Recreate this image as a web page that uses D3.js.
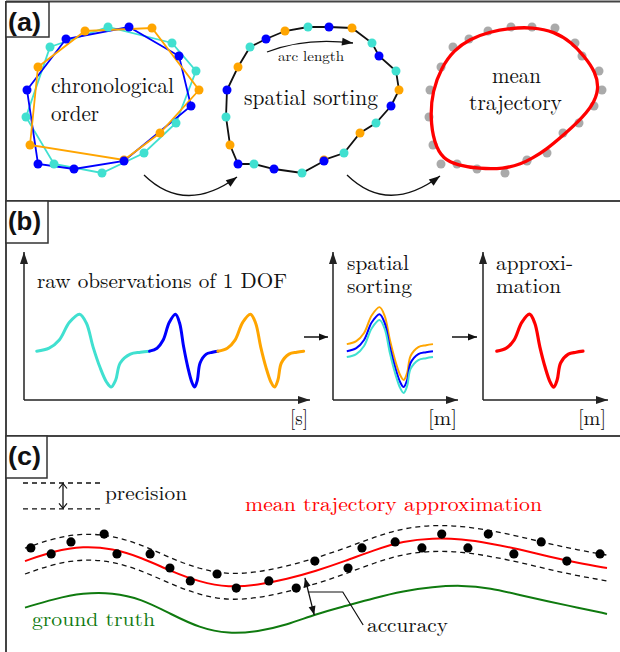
<!DOCTYPE html>
<html>
<head>
<meta charset="utf-8">
<script src="https://cdn.jsdelivr.net/npm/d3@7"></script>
<style>
  body { margin: 0; background: #fff; }
  svg { display: block; }
</style>
</head>
<body>
<svg id="fig" width="620" height="652"></svg>
<script>
// ---- (a) three recorded passes of a closed path, coords relative to loop centre
const cyanPts   = [[-63,53],[-5,73],[59,57],[83,29],[63,-23],[31,-53],[-11,-73],[-59,-64],[-87,-17]];
const bluePts   = [[-86,10],[-47,61],[16,73],[66,44],[78,-6],[11,-61],[-39,-69],[-75,-64]];
const orangePts = [[-75,33],[-28,69],[39,72],[86,10],[47,-33],[11,-60],[-83,-45]];

// ---- (b) one DOF, one pass: normalised phase -> value
const wavePhase = [0, 0.11, 0.2, 0.29, 0.38, 0.44, 0.5, 0.56, 0.62, 0.66, 0.7, 0.74, 0.83, 0.92, 1];
const waveValue = [0, 0.08, 0.3, 0.78, 1, 0.76, 0.11, -0.43, -0.84, -0.97, -0.78, -0.32, -0.08, -0.03, 0];
const obsStart = [0.4, 3.95, 6.1];   // [s]
const obsEnd   = [3.95, 6.1, 8.8];
const sortOffset = [-0.16, 0, 0.19]; // cyan, blue, orange after spatial sorting

// ---- (c) trajectory, ground truth, observations
const cPos = [0,5,10,15,20,25,30,35,40,45,50,55,60,65,70,75,80,85,90,95,100];
const meanTraj = [26.3,29.7,31.3,30.5,27.5,23,19.3,17.5,18.3,20.3,23,26.3,30,33,34,33.7,32.2,30.2,27.8,25.7,24];
const groundTruth = [10.8,13.7,15.7,15.8,13.7,8.7,4,2,2.8,5,8.7,11.3,14,16.3,17.7,18.3,17.3,15,12.8,10.8,8.7];
const precision = 4.3;
const obsX = [1,4.5,7.9,13.6,15.8,21.5,24.9,28.4,33,36.3,41.9,46.6,49.8,55.5,57.9,63.6,68.2,71.6,76.1,79.6,84,88.7,93.1,98.8];
const obsY = [30.7,28.7,32.7,35.3,28.7,28.7,24,19.7,22,17.3,19.7,17.3,26.3,24,30.7,32.7,30.7,35.3,30.7,35.3,28.7,32.7,26.3,28.7];

const colors = { cyan: "#40e0d0", blue: "#0000ff", orange: "#ffa500", red: "#ff0000", gray: "#aaaaaa", green: "#0f7a0f" };
const obsColors = [colors.cyan, colors.blue, colors.orange];
const SERIF = "'Latin Modern Roman', 'Liberation Serif', serif";

const svg = d3.select("#fig");
const defs = svg.append("defs");

function arrowMarker(id, len, wid, color, open) {
  const m = defs.append("marker").attr("id", id)
    .attr("viewBox", `0 0 ${len} ${wid}`)
    .attr("refX", len).attr("refY", wid / 2)
    .attr("markerWidth", len).attr("markerHeight", wid)
    .attr("markerUnits", "userSpaceOnUse")
    .attr("orient", "auto-start-reverse")
    .style("overflow", "visible");
  m.append("path")
    .attr("d", open ? `M0,0 L${len},${wid/2} L0,${wid}` : `M0,0 L${len},${wid/2} L0,${wid} Z`)
    .attr("fill", open ? "none" : color)
    .attr("stroke", open ? color : "none")
    .attr("stroke-width", 1.2);
}
arrowMarker("head", 11, 8, "#111", false);
arrowMarker("headAx", 12, 8, "#222", false);
arrowMarker("headSm", 9, 7, "#111", false);
arrowMarker("headOpen", 5, 8, "#111", true);

function label(g, str, x, y, size, width, color) {
  const t = g.append("text").attr("x", x).attr("y", y)
    .style("font-family", SERIF)
    .attr("font-size", size).attr("fill", color || "#111").text(str);
  if (width) t.attr("textLength", width).attr("lengthAdjust", "spacingAndGlyphs");
  return t;
}

// ================= frame =================
const frame = svg.append("g").attr("stroke", "#444").attr("stroke-width", 2);
frame.append("line").attr("x1", 6).attr("y1", 1.5).attr("x2", 620).attr("y2", 1.5);
frame.append("line").attr("x1", 6).attr("y1", 1).attr("x2", 6).attr("y2", 652);
frame.append("line").attr("x1", 6).attr("y1", 201).attr("x2", 620).attr("y2", 201);
frame.append("line").attr("x1", 6).attr("y1", 436).attr("x2", 620).attr("y2", 436);

const panelLabels = [
  { t: "(a)", x: 6, y: 2, w: 43, h: 35 },
  { t: "(b)", x: 6, y: 201, w: 42, h: 42 },
  { t: "(c)", x: 6, y: 436, w: 41, h: 42 }
];
panelLabels.forEach(p => {
  svg.append("rect").attr("x", p.x).attr("y", p.y).attr("width", p.w).attr("height", p.h)
    .attr("fill", "#fff").attr("stroke", "#333").attr("stroke-width", 1.5);
  svg.append("text").attr("x", p.x + 2).attr("y", p.y + 29)
    .style("font-family", "'Liberation Sans', Arial, sans-serif").attr("font-weight", "bold")
    .attr("font-size", 25).attr("textLength", 33).attr("lengthAdjust", "spacingAndGlyphs")
    .attr("fill", "#111").text(p.t);
});

// ================= (a) =================
const loopCentres = [113, 313, 516];
const yA = d3.scaleLinear().domain([-100, 100]).range([200, 0]);
const xAs = loopCentres.map(c => d3.scaleLinear().domain([-100, 100]).range([c - 100, c + 100]));

const passes = [
  { pts: cyanPts, color: colors.cyan },
  { pts: bluePts, color: colors.blue },
  { pts: orangePts, color: colors.orange }
];

// chronological order
const gA1 = svg.append("g");
const line1 = d3.line().x(d => xAs[0](d[0])).y(d => yA(d[1])).curve(d3.curveLinearClosed);
passes.forEach(p => {
  gA1.append("path").attr("d", line1(p.pts)).attr("fill", "none")
    .attr("stroke", p.color).attr("stroke-width", 1.8);
});
[passes[0], passes[2], passes[1]].forEach(p => {
  gA1.selectAll(null).data(p.pts).join("circle")
    .attr("cx", d => xAs[0](d[0])).attr("cy", d => yA(d[1])).attr("r", 4.5).attr("fill", p.color);
});
label(gA1, "chronological", 51, 93, 21.5, 123);
label(gA1, "order", 51, 121, 21.5, 48);

// spatial sorting: all observations ordered along the path
const allPts = [];
passes.forEach(p => p.pts.forEach(d => allPts.push({ x: d[0], y: d[1], color: p.color })));
const sorted = allPts.slice().sort((a, b) => Math.atan2(b.y, b.x) - Math.atan2(a.y, a.x));

const gA2 = svg.append("g");
const line2 = d3.line().x(d => xAs[1](d.x)).y(d => yA(d.y)).curve(d3.curveLinearClosed);
gA2.append("path").attr("d", line2(sorted)).attr("fill", "none").attr("stroke", "#111").attr("stroke-width", 1.8);
[colors.cyan, colors.orange, colors.blue].forEach(c => {
  gA2.selectAll(null).data(allPts.filter(d => d.color === c)).join("circle")
    .attr("cx", d => xAs[1](d.x)).attr("cy", d => yA(d.y)).attr("r", 4.5).attr("fill", c);
});
label(gA2, "spatial sorting", 244, 105, 21.5, 134);
label(gA2, "arc length", 278, 61, 14, 66);
const arcPath = d3.path();
arcPath.moveTo(267, 52); arcPath.quadraticCurveTo(305, 37, 353, 43);
gA2.append("path").attr("d", arcPath.toString()).attr("fill", "none").attr("stroke", "#111")
  .attr("stroke-width", 1.3).attr("marker-end", "url(#head)");

// mean trajectory: neighbour average of the sorted observations, B-spline smoothed
const n = sorted.length;
const meanLoop = sorted.map((d, i) => {
  const a = sorted[(i + n - 1) % n], b = sorted[(i + 1) % n];
  return { x: 0.25 * a.x + 0.5 * d.x + 0.25 * b.x, y: 0.25 * a.y + 0.5 * d.y + 0.25 * b.y };
});
const gA3 = svg.append("g");
gA3.selectAll(null).data(allPts).join("circle")
  .attr("cx", d => xAs[2](d.x)).attr("cy", d => yA(d.y)).attr("r", 4.5).attr("fill", colors.gray);
const line3 = d3.line().x(d => xAs[2](d.x)).y(d => yA(d.y)).curve(d3.curveBasisClosed);
gA3.append("path").attr("d", line3(meanLoop)).attr("fill", "none").attr("stroke", colors.red).attr("stroke-width", 3.3);
label(gA3, "mean", 492, 83, 21.5, 49);
label(gA3, "trajectory", 469, 110, 21.5, 93);

// step arrows between loops
[[144, 175, 185, 215, 237, 177], [347, 175, 388, 215, 440, 176]].forEach(a => {
  const p = d3.path();
  p.moveTo(a[0], a[1]); p.quadraticCurveTo(a[2], a[3], a[4], a[5]);
  svg.append("path").attr("d", p.toString()).attr("fill", "none").attr("stroke", "#111")
    .attr("stroke-width", 1.3).attr("marker-end", "url(#head)");
});

// ================= (b) =================
const yVal = d3.scaleLinear().domain([-1.32, 2.68]).range([400, 252]);
const xTime = d3.scaleLinear().domain([0, 9]).range([24, 310]);
const xArc1 = d3.scaleLinear().domain([-0.16, 1.29]).range([333, 458]);
const xArc2 = d3.scaleLinear().domain([-0.16, 1.29]).range([483, 608]);
const waveLine = d3.line().curve(d3.curveCatmullRom.alpha(0.5));
const gB = svg.append("g");

function axes(xs) {
  const x0 = xs.range()[0], y0 = yVal.range()[0];
  gB.append("line").attr("x1", x0).attr("y1", y0).attr("x2", x0).attr("y2", yVal.range()[1])
    .attr("stroke", "#222").attr("stroke-width", 1.5).attr("marker-end", "url(#headAx)");
  gB.append("line").attr("x1", x0).attr("y1", y0).attr("x2", xs.range()[1]).attr("y2", y0)
    .attr("stroke", "#222").attr("stroke-width", 1.5).attr("marker-end", "url(#headAx)");
}
axes(xTime); axes(xArc1); axes(xArc2);

// raw observations over time
obsStart.forEach((s, k) => {
  const pts = wavePhase.map((p, i) => [xTime(s + p * (obsEnd[k] - s)), yVal(waveValue[i])]);
  gB.append("path").attr("d", waveLine(pts)).attr("fill", "none")
    .attr("stroke", obsColors[k]).attr("stroke-width", 3).attr("stroke-linecap", "round");
});
label(gB, "raw observations of 1 DOF", 37, 288, 21, 250);
label(gB, "[s]", 290, 425, 21, 18);

// spatially sorted
[2, 1, 0].forEach(k => {
  const pts = wavePhase.map((p, i) => [xArc1(p), yVal(waveValue[i] + sortOffset[k])]);
  gB.append("path").attr("d", waveLine(pts)).attr("fill", "none")
    .attr("stroke", obsColors[k]).attr("stroke-width", 2);
});
label(gB, "spatial", 347, 270, 21, 62);
label(gB, "sorting", 347, 293, 21, 65);
label(gB, "[m]", 428, 425, 21, 29);

// approximation
const approxPts = wavePhase.map((p, i) => [xArc2(p), yVal(waveValue[i])]);
gB.append("path").attr("d", waveLine(approxPts)).attr("fill", "none")
  .attr("stroke", colors.red).attr("stroke-width", 3.2).attr("stroke-linecap", "round");
label(gB, "approxi-", 496, 270, 21, 77);
label(gB, "mation", 496, 293, 21, 65);
label(gB, "[m]", 578, 425, 21, 28);

// step arrows
[[304, 328], [452, 477]].forEach(a => {
  gB.append("line").attr("x1", a[0]).attr("y1", 337).attr("x2", a[1]).attr("y2", 337)
    .attr("stroke", "#111").attr("stroke-width", 1.5).attr("marker-end", "url(#headSm)");
});

// ================= (c) =================
const xC = d3.scaleLinear().domain([0, 100]).range([25, 607]);
const yC = d3.scaleLinear().domain([0, 50]).range([640, 490]);
const gC = svg.append("g");
const cLine = d3.line().x((d, i) => xC(cPos[i])).y(d => yC(d)).curve(d3.curveBasis);

gC.append("path").attr("d", cLine(groundTruth)).attr("fill", "none").attr("stroke", colors.green).attr("stroke-width", 2);
[precision, -precision].forEach(o => {
  gC.append("path").attr("d", cLine(meanTraj.map(v => v + o))).attr("fill", "none")
    .attr("stroke", "#111").attr("stroke-width", 1.3).attr("stroke-dasharray", "5,4");
});
gC.append("path").attr("d", cLine(meanTraj)).attr("fill", "none").attr("stroke", colors.red).attr("stroke-width", 2);
gC.selectAll(null).data(obsX).join("circle")
  .attr("cx", d => xC(d)).attr("cy", (d, i) => yC(obsY[i])).attr("r", 4.6).attr("fill", "#000");

// precision legend
const precGap = yC(0) - yC(2 * precision);
[483, 483 + precGap].forEach(y => {
  gC.append("line").attr("x1", 23).attr("y1", y).attr("x2", 103).attr("y2", y)
    .attr("stroke", "#111").attr("stroke-width", 1.3).attr("stroke-dasharray", "5,4");
});
gC.append("line").attr("x1", 63).attr("y1", 483.5).attr("x2", 63).attr("y2", 483 + precGap - 0.5)
  .attr("stroke", "#111").attr("stroke-width", 1.3)
  .attr("marker-start", "url(#headOpen)").attr("marker-end", "url(#headOpen)");
label(gC, "precision", 105, 500, 19, 82);

// accuracy
gC.append("line").attr("x1", xC(48.1)).attr("y1", yC(20.7)).attr("x2", xC(49.7)).attr("y2", yC(8.3))
  .attr("stroke", "#111").attr("stroke-width", 1.3)
  .attr("marker-start", "url(#headSm)").attr("marker-end", "url(#headSm)");
gC.append("path").attr("d", d3.line()([[xC(48.6), yC(16)], [xC(54.6), yC(16)], [xC(58.1), yC(5)]]))
  .attr("fill", "none").attr("stroke", "#111").attr("stroke-width", 1.2);
label(gC, "accuracy", 367, 632, 19, 81);

label(gC, "mean trajectory approximation", 245, 511, 19, 297, colors.red);
label(gC, "ground truth", 32, 626, 19, 123, colors.green);
</script>
</body>
</html>
